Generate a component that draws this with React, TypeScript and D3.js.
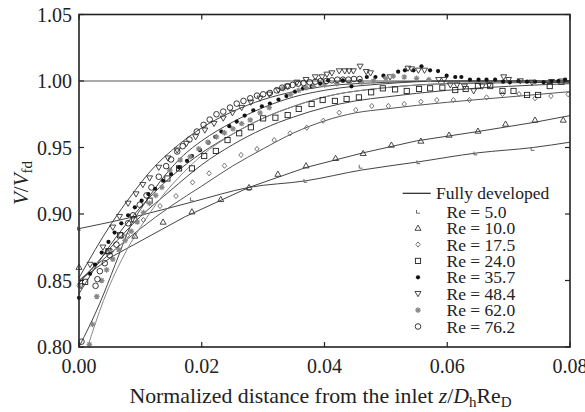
import React from 'react';
import * as d3 from 'd3';

const W = 585;
const H = 412;

const xTicks = [0, 0.02, 0.04, 0.06, 0.08];
const xTickLabels = ['0.00', '0.02', '0.04', '0.06', '0.08'];
const yTicks = [0.8, 0.85, 0.9, 0.95, 1.0, 1.05];
const yTickLabels = ['0.80', '0.85', '0.90', '0.95', '1.00', '1.05'];

const seriesNames = ['Re = 5.0', 'Re = 10.0', 'Re = 17.5', 'Re = 24.0', 'Re = 35.7', 'Re = 48.4', 'Re = 62.0', 'Re = 76.2'];
const seriesMarkers = ['corner', 'triUp', 'diamond', 'square', 'dot', 'triDown', 'star', 'circle'];

const fullyDeveloped: [number, number][] = [[0, 1.0], [0.08, 1.0]];

const re5: [number, number][] = [[0, 0.889], [0.0184, 0.911], [0.0277, 0.919], [0.0369, 0.925], [0.0459, 0.9356], [0.0553, 0.939], [0.0646, 0.9456], [0.0739, 0.949]];
const re10: [number, number][] = [[0, 0.86], [0.0046, 0.872], [0.0091, 0.8835], [0.0137, 0.894], [0.0184, 0.9017], [0.0231, 0.911], [0.0277, 0.92], [0.0324, 0.93], [0.037, 0.9363], [0.0418, 0.9419], [0.0463, 0.9456], [0.0509, 0.9519], [0.0557, 0.9549], [0.0603, 0.9594], [0.065, 0.9624], [0.0695, 0.9677], [0.0743, 0.9707], [0.0789, 0.9707]];
const re17: [number, number][] = [[0, 0.846], [0.0053, 0.872], [0.0079, 0.884], [0.0105, 0.8955], [0.0132, 0.906], [0.0158, 0.9135], [0.0185, 0.9238], [0.0212, 0.9306], [0.0237, 0.9363], [0.0264, 0.9444], [0.029, 0.9489], [0.0318, 0.9556], [0.0344, 0.9607], [0.0371, 0.9649], [0.0398, 0.9702], [0.0424, 0.9762], [0.0451, 0.9782], [0.0477, 0.9812], [0.0504, 0.9812], [0.053, 0.9827], [0.0557, 0.9844], [0.0583, 0.9857], [0.061, 0.9857], [0.0636, 0.9857], [0.0664, 0.9877], [0.069, 0.9902], [0.0717, 0.9902], [0.0743, 0.987], [0.0769, 0.9887], [0.0797, 0.99]];
const re24: [number, number][] = [[0.001, 0.849], [0.0048, 0.872], [0.0067, 0.884], [0.009, 0.896], [0.0115, 0.91], [0.0144, 0.9267], [0.0163, 0.9343], [0.0184, 0.9343], [0.0204, 0.9436], [0.0223, 0.9474], [0.0242, 0.9556], [0.0261, 0.9607], [0.028, 0.9652], [0.03, 0.9719], [0.032, 0.9724], [0.034, 0.9744], [0.0358, 0.979], [0.0379, 0.9827], [0.0397, 0.9857], [0.0417, 0.985], [0.0436, 0.9865], [0.0456, 0.9877], [0.0476, 0.9915], [0.0495, 0.9945], [0.0515, 0.9937], [0.0534, 0.9925], [0.0554, 0.994], [0.0572, 0.9945], [0.0592, 0.995], [0.0613, 0.9932], [0.063, 0.994], [0.065, 0.9962], [0.067, 0.9962], [0.069, 0.9925], [0.0708, 0.9925], [0.073, 0.9895], [0.0748, 0.9895], [0.0767, 0.9962], [0.0786, 0.9995]];
const re35: [number, number][] = [[0, 0.837], [0.0018, 0.855], [0.0026, 0.862], [0.0037, 0.871], [0.0048, 0.879], [0.0058, 0.886], [0.0069, 0.893], [0.008, 0.899], [0.0091, 0.905], [0.0102, 0.91], [0.0113, 0.915], [0.0124, 0.919], [0.0137, 0.925], [0.015, 0.93], [0.0163, 0.935], [0.0176, 0.94], [0.0184, 0.9436], [0.0197, 0.948], [0.0211, 0.9536], [0.0222, 0.958], [0.0232, 0.962], [0.0245, 0.966], [0.0257, 0.9695], [0.027, 0.974], [0.0284, 0.978], [0.0298, 0.981], [0.0311, 0.983], [0.0325, 0.986], [0.0338, 0.9887], [0.0352, 0.992], [0.0365, 0.9945], [0.0379, 0.9957], [0.0393, 0.998], [0.0406, 1.0005], [0.043, 1.0005], [0.0444, 0.996], [0.0458, 1.0], [0.0469, 1.003], [0.0483, 1.003], [0.0496, 1.004], [0.052, 1.007], [0.0531, 1.008], [0.0545, 1.008], [0.0558, 1.011], [0.0572, 1.008], [0.0585, 1.0075], [0.0599, 1.004], [0.0613, 1.003], [0.0623, 1.003], [0.0637, 1.001], [0.0651, 1.001], [0.0664, 1.001], [0.0678, 1.001], [0.0691, 0.9995], [0.0702, 0.999], [0.0716, 1.0], [0.073, 0.9995], [0.0743, 0.9995], [0.0757, 0.999], [0.077, 1.0], [0.0781, 1.0], [0.0792, 1.001]];
const re48: [number, number][] = [[0.0003, 0.846], [0.0018, 0.862], [0.0039, 0.875], [0.0055, 0.89], [0.0066, 0.898], [0.008, 0.908], [0.0093, 0.915], [0.0104, 0.922], [0.0115, 0.927], [0.013, 0.935], [0.0145, 0.942], [0.016, 0.948], [0.0175, 0.953], [0.019, 0.958], [0.0205, 0.963], [0.022, 0.968], [0.0235, 0.972], [0.025, 0.976], [0.0265, 0.98], [0.028, 0.984], [0.0295, 0.987], [0.031, 0.99], [0.0325, 0.993], [0.034, 0.996], [0.0355, 0.999], [0.037, 1.001], [0.0385, 1.003], [0.0396, 1.003], [0.0404, 1.005], [0.0412, 1.006], [0.0424, 1.0075], [0.0433, 1.0075], [0.044, 1.0075], [0.0447, 1.0075], [0.0458, 1.011], [0.0468, 1.007], [0.0475, 1.006], [0.0507, 1.003], [0.0536, 1.0095], [0.0542, 1.009], [0.0553, 1.008], [0.0563, 1.008], [0.0586, 1.001], [0.0595, 1.001], [0.0605, 0.997], [0.0616, 0.997], [0.0628, 0.996], [0.0643, 0.9925], [0.0657, 0.996], [0.0668, 0.997], [0.0692, 1.003], [0.07, 1.001], [0.0719, 1.0], [0.0738, 0.999], [0.077, 0.9995]];
const re62: [number, number][] = [[0.0017, 0.802], [0.0022, 0.817], [0.0029, 0.838], [0.0037, 0.85], [0.0045, 0.858], [0.0055, 0.866], [0.0065, 0.873], [0.0075, 0.88], [0.0085, 0.887], [0.0095, 0.894], [0.0105, 0.901], [0.0115, 0.908], [0.0125, 0.914], [0.0135, 0.92], [0.0148, 0.933], [0.0165, 0.9406], [0.0181, 0.943], [0.0195, 0.949], [0.021, 0.954], [0.0224, 0.958], [0.0237, 0.961], [0.0251, 0.964], [0.0265, 0.968], [0.0279, 0.9707], [0.0295, 0.976], [0.031, 0.98], [0.0333, 0.9944], [0.0345, 0.99], [0.0358, 0.993], [0.037, 0.995], [0.0382, 0.996], [0.04, 0.997], [0.042, 0.998], [0.044, 0.999], [0.046, 0.999], [0.048, 1.0], [0.05, 1.002], [0.0512, 1.0037], [0.053, 1.003], [0.055, 1.002], [0.057, 1.001]];
const re76: [number, number][] = [[0.0004, 0.804], [0.0027, 0.846], [0.003, 0.851], [0.0034, 0.857], [0.0042, 0.863], [0.005, 0.869], [0.0061, 0.877], [0.0069, 0.884], [0.008, 0.893], [0.0088, 0.899], [0.0099, 0.907], [0.011, 0.914], [0.0118, 0.92], [0.013, 0.928], [0.0142, 0.936], [0.015, 0.941], [0.016, 0.947], [0.0169, 0.951], [0.018, 0.956], [0.0192, 0.962], [0.0203, 0.967], [0.0213, 0.971], [0.0224, 0.975], [0.0235, 0.977], [0.0246, 0.98], [0.0257, 0.983], [0.0268, 0.985], [0.0279, 0.987], [0.029, 0.989], [0.03, 0.99], [0.0311, 0.991], [0.0322, 0.993], [0.0331, 0.995], [0.034, 0.996], [0.0348, 0.997], [0.0357, 0.998], [0.0366, 0.9985], [0.0376, 0.999], [0.0385, 0.9995], [0.0394, 1.0], [0.0403, 1.0], [0.0412, 1.0005], [0.0421, 1.001], [0.043, 1.001], [0.0439, 1.001], [0.0448, 1.0015], [0.0457, 1.0015]];

const fit5: [number, number][] = [[0, 0.889], [0.01, 0.899], [0.0184, 0.909], [0.0277, 0.92], [0.037, 0.925], [0.046, 0.933], [0.055, 0.939], [0.065, 0.946], [0.074, 0.95], [0.08, 0.954]];
const fit10: [number, number][] = [[0, 0.85], [0.0054, 0.868], [0.0173, 0.898], [0.0277, 0.92], [0.037, 0.935], [0.0463, 0.946], [0.055, 0.955], [0.065, 0.962], [0.0743, 0.969], [0.08, 0.974]];
const fit17: [number, number][] = [[0, 0.85], [0.005, 0.87], [0.01, 0.889], [0.015, 0.906], [0.02, 0.921], [0.025, 0.936], [0.03, 0.949], [0.035, 0.961], [0.04, 0.97], [0.045, 0.976], [0.05, 0.979], [0.06, 0.984], [0.07, 0.988], [0.08, 0.992]];
const fit24: [number, number][] = [[0, 0.848], [0.005, 0.874], [0.01, 0.898], [0.015, 0.918], [0.02, 0.937], [0.025, 0.952], [0.03, 0.964], [0.035, 0.973], [0.04, 0.98], [0.045, 0.985], [0.05, 0.988], [0.06, 0.993], [0.07, 0.996], [0.08, 0.998]];
const fit35: [number, number][] = [[0, 0.84], [0.005, 0.876], [0.01, 0.905], [0.015, 0.928], [0.02, 0.946], [0.025, 0.96], [0.03, 0.972], [0.035, 0.981], [0.04, 0.988], [0.05, 0.995], [0.06, 0.998], [0.08, 0.999]];
const fit48: [number, number][] = [[0, 0.852], [0.0053, 0.893], [0.0087, 0.915], [0.0116, 0.932], [0.0162, 0.952], [0.0194, 0.963], [0.025, 0.977], [0.03, 0.986], [0.035, 0.992], [0.04, 0.996], [0.05, 0.999], [0.06, 1.0], [0.08, 1.0]];
const fit62: [number, number][] = [[0.0014, 0.8], [0.004, 0.835], [0.007, 0.866], [0.01, 0.89], [0.0135, 0.913], [0.017, 0.931], [0.02, 0.944], [0.025, 0.96], [0.03, 0.972], [0.035, 0.981], [0.04, 0.988], [0.05, 0.995], [0.06, 0.998], [0.08, 1.0]];
const fit76: [number, number][] = [[0, 0.8], [0.0034, 0.833], [0.0059, 0.862], [0.0083, 0.89], [0.011, 0.91], [0.014, 0.929], [0.017, 0.944], [0.02, 0.955], [0.025, 0.969], [0.03, 0.98], [0.035, 0.988], [0.04, 0.993], [0.05, 0.998], [0.06, 1.0], [0.08, 1.0]];

const markerData = [re5, re10, re17, re24, re35, re48, re62, re76];
const fitData = [fit5, fit10, fit17, fit24, fit35, fit48, fit62, fit76];
const fitColors = ['#444', '#444', '#555', '#444', '#444', '#444', '#888', '#444'];

const FONT = "'Liberation Serif', 'Times New Roman', Times, serif";

function Marker({ type, x, y }: { type: string; x: number; y: number }) {
  const t = `translate(${x},${y})`;
  switch (type) {
    case 'corner':
      return <path transform={t} d="M-1.5,-1.8 L-1.5,1.5 L1.8,1.5" fill="none" stroke="#666" strokeWidth={1} />;
    case 'triUp':
      return <path transform={t} d="M0,-3 L3,2.2 L-3,2.2 Z" fill="none" stroke="#333" strokeWidth={0.9} />;
    case 'diamond':
      return <path transform={t} d="M0,-2.6 L2.2,0 L0,2.6 L-2.2,0 Z" fill="none" stroke="#666" strokeWidth={0.9} />;
    case 'square':
      return <rect x={x - 2.6} y={y - 2.6} width={5.2} height={5.2} fill="none" stroke="#222" strokeWidth={0.9} />;
    case 'dot':
      return <circle cx={x} cy={y} r={2.1} fill="#111" />;
    case 'triDown':
      return <path transform={t} d="M0,3 L3,-2.2 L-3,-2.2 Z" fill="none" stroke="#333" strokeWidth={0.9} />;
    case 'star':
      return <path transform={t} d="M-2.8,0 L2.8,0 M0,-2.8 L0,2.8 M-2,-2 L2,2 M-2,2 L2,-2" fill="none" stroke="#888" strokeWidth={1.2} />;
    case 'circle':
      return <circle cx={x} cy={y} r={2.8} fill="none" stroke="#222" strokeWidth={0.9} />;
    default:
      return null;
  }
}

export default function App() {
  const x = d3.scaleLinear().domain([0, 0.08]).range([79, 570]);
  const y = d3.scaleLinear().domain([0.8, 1.05]).range([347, 14.5]);
  const line = d3.line<[number, number]>().x(d => x(d[0])).y(d => y(d[1])).curve(d3.curveMonotoneX);
  const straight = d3.line<[number, number]>().x(d => x(d[0])).y(d => y(d[1]));

  const legendX = 418;
  const legendRowY = (i: number) => 211.7 + i * 16.4;
  const tf = { fontFamily: FONT };

  return (
    <svg width={W} height={H} style={{ position: 'absolute', left: 0, top: 0, background: '#fff', fontFamily: FONT }}>
      <rect width={W} height={H} fill="#fff" />
      <path d={straight(fullyDeveloped) || ''} fill="none" stroke="#555" strokeWidth={1.2} />
      {fitData.map((f, i) => (
        <path key={'f' + i} d={(i === 1 ? straight(f) : line(f)) || ''} fill="none" stroke={fitColors[i]} strokeWidth={1} />
      ))}
      {markerData.map((s, i) => (
        <g key={'s' + i}>
          {s.map((d, j) => (
            <Marker key={j} type={seriesMarkers[i]} x={x(d[0])} y={y(d[1])} />
          ))}
        </g>
      ))}
      <rect x={x(0)} y={y(1.05)} width={x(0.08) - x(0)} height={y(0.8) - y(1.05)} fill="none" stroke="#222" strokeWidth={1.6} />
      {xTicks.map((t, i) => (
        <g key={'xt' + i}>
          <line x1={x(t)} x2={x(t)} y1={y(0.8)} y2={y(0.8) - 5} stroke="#222" strokeWidth={1.2} />
          <line x1={x(t)} x2={x(t)} y1={y(1.05)} y2={y(1.05) + 5} stroke="#222" strokeWidth={1.2} />
          <text x={x(t)} y={373} textAnchor="middle" fontSize={20} fill="#222" style={tf}>{xTickLabels[i]}</text>
        </g>
      ))}
      {yTicks.map((t, i) => (
        <g key={'yt' + i}>
          <line x1={x(0)} x2={x(0) + 5} y1={y(t)} y2={y(t)} stroke="#222" strokeWidth={1.2} />
          <line x1={x(0.08)} x2={x(0.08) - 5} y1={y(t)} y2={y(t)} stroke="#222" strokeWidth={1.2} />
          <text x={72} y={y(t)} dy="0.35em" textAnchor="end" fontSize={20} fill="#222" style={tf}>{yTickLabels[i]}</text>
        </g>
      ))}
      <text x={320.5} y={403} textAnchor="middle" fontSize={21.8} fill="#222" style={tf}>
        Normalized distance from the inlet <tspan fontStyle="italic">z</tspan>/<tspan fontStyle="italic">D</tspan>
        <tspan fontSize={15} dy={4}>h</tspan>
        <tspan dy={-4}>Re</tspan>
        <tspan fontSize={15} dy={4}>D</tspan>
      </text>
      <text transform="translate(28,183) rotate(-90)" textAnchor="middle" fontSize={21} fill="#222" style={tf}>
        <tspan fontStyle="italic">V</tspan>/<tspan fontStyle="italic">V</tspan>
        <tspan fontSize={15} dy={4}>fd</tspan>
      </text>
      <line x1={402.7} x2={430.7} y1={193.3} y2={193.3} stroke="#222" strokeWidth={1.2} />
      <text x={436} y={193.3} dy="0.35em" fontSize={17.5} fill="#222" style={tf}>Fully developed</text>
      {seriesNames.map((n, i) => (
        <g key={'lg' + i}>
          <Marker type={seriesMarkers[i]} x={legendX} y={legendRowY(i)} />
          <text x={446.5} y={legendRowY(i)} dy="0.35em" fontSize={17.5} fill="#222" style={tf}>{n}</text>
        </g>
      ))}
    </svg>
  );
}
